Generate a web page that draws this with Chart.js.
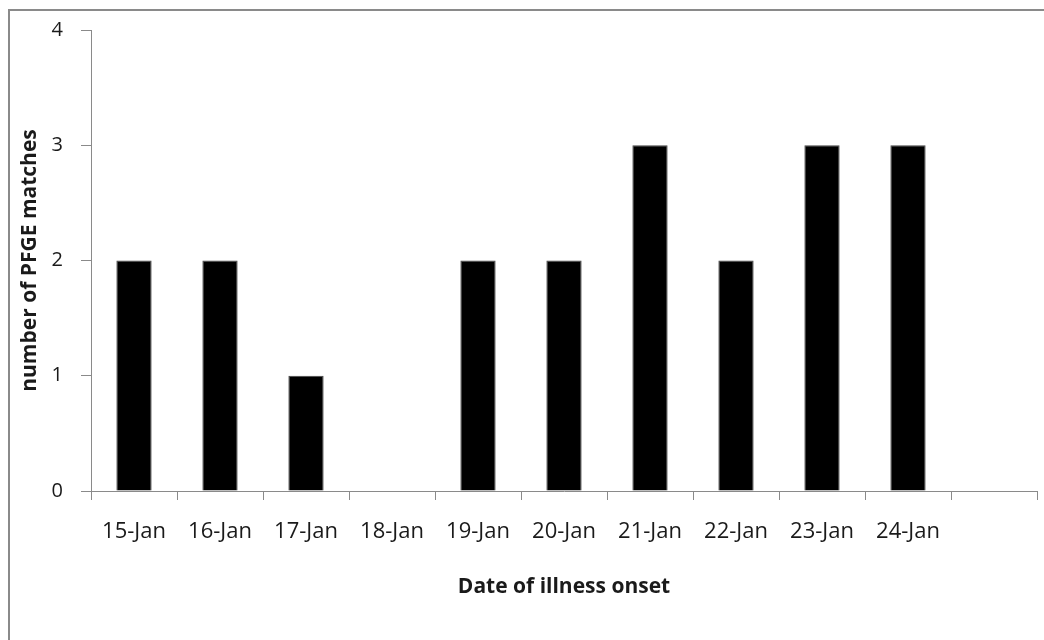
<!DOCTYPE html>
<html>
<head>
<meta charset="utf-8">
<script src="https://cdn.jsdelivr.net/npm/chart.js@4.4.0/dist/chart.umd.min.js"></script>
<style>
  html, body { margin: 0; padding: 0; background: #fff; }
  #wrap { width: 1044px; height: 640px; position: relative; }
</style>
</head>
<body>
<div id="wrap"><canvas id="chart" width="1044" height="640"></canvas></div>
<script>
const categories = ['15-Jan', '16-Jan', '17-Jan', '18-Jan', '19-Jan', '20-Jan', '21-Jan', '22-Jan', '23-Jan', '24-Jan', ''];
const matches = [2, 2, 1, 0, 2, 2, 3, 2, 3, 3, null];
const yTicks = [0, 1, 2, 3, 4];

// outer frame, like the spreadsheet chart border
const frame = {
  id: 'frame',
  beforeDraw(chart) {
    const c = chart.ctx;
    c.save();
    c.fillStyle = '#fff';
    c.fillRect(0, 0, chart.width, chart.height);
    c.strokeStyle = '#8a8a8a';
    c.lineWidth = 2;
    c.strokeRect(9, 10, 1200, 800);
    c.restore();
  }
};

const axisGrey = '#8a8a8a';
const textCol = '#1a1a1a';

new Chart(document.getElementById('chart'), {
  type: 'bar',
  data: {
    labels: categories,
    datasets: [{
      label: 'number of PFGE matches',
      data: matches,
      backgroundColor: '#000',
      borderColor: '#444',
      borderWidth: 1,
      barPercentage: 0.41,
      categoryPercentage: 1
    }]
  },
  options: {
    responsive: false,
    animation: false,
    layout: { padding: { top: 29, right: 7, left: 0, bottom: 0 } },
    plugins: {
      legend: { display: false },
      tooltip: { enabled: false }
    },
    scales: {
      x: {
        grid: { drawOnChartArea: false, drawTicks: true, tickLength: 9, color: axisGrey, offset: true },
        border: { display: true, color: axisGrey, width: 1 },
        ticks: { color: textCol, font: { family: 'Open Sans', size: 22 }, padding: 19, maxRotation: 0, autoSkip: false },
        title: {
          display: true,
          text: 'Date of illness onset',
          color: textCol,
          font: { family: 'Open Sans', size: 21, weight: 'bold' },
          padding: { top: 0, bottom: 40 }
        },
        afterFit(scale) { scale.height = 149; }
      },
      y: {
        min: 0,
        max: 4,
        afterBuildTicks(scale) { scale.ticks = yTicks.map(v => ({ value: v })); },
        grid: { drawOnChartArea: false, drawTicks: true, tickLength: 10, color: axisGrey },
        border: { display: true, color: axisGrey, width: 1 },
        ticks: { color: textCol, font: { family: 'Open Sans', size: 20 }, padding: 18 },
        title: {
          display: true,
          text: 'number of PFGE matches',
          color: textCol,
          font: { family: 'Open Sans', size: 21, weight: 'bold' },
          padding: { top: 17, bottom: 0 }
        },
        afterFit(scale) { scale.width = 91; }
      }
    }
  },
  plugins: [frame]
});
</script>
</body>
</html>
